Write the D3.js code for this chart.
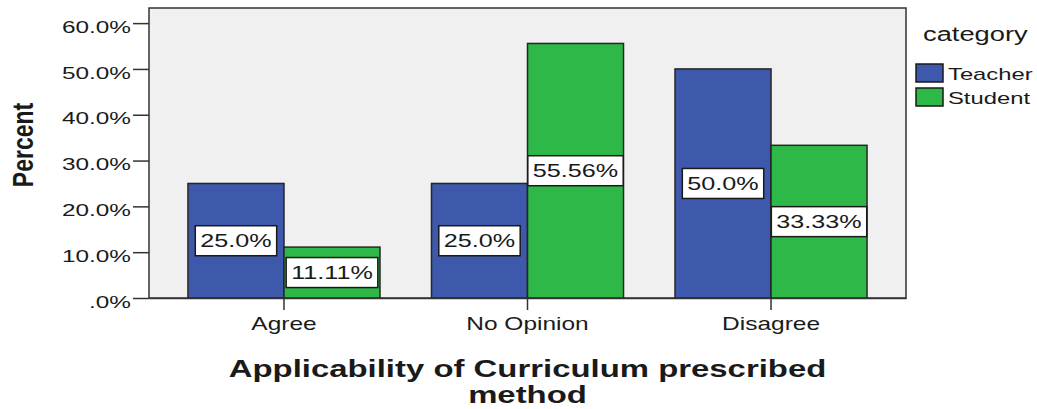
<!DOCTYPE html>
<html>
<head>
<meta charset="utf-8">
<script src="https://cdn.jsdelivr.net/npm/d3@7/dist/d3.min.js"></script>
<style>
  html, body { margin: 0; padding: 0; background: #ffffff; }
  svg { display: block; }
  text { font-family: "Liberation Sans", Arial, sans-serif; fill: #1a1a1a; }
</style>
</head>
<body>
<svg id="chart" width="1037" height="409"></svg>
<script>
// ---- data ----
const categories = ["Agree", "No Opinion", "Disagree"];
const seriesNames = ["Teacher", "Student"];
const teacherValues = [25.0, 25.0, 50.0];
const studentValues = [11.11, 55.56, 33.33];
const teacherLabels = ["25.0%", "25.0%", "50.0%"];
const studentLabels = ["11.11%", "55.56%", "33.33%"];
const yTickValues = [0, 10, 20, 30, 40, 50, 60];
const yTickLabels = [".0%", "10.0%", "20.0%", "30.0%", "40.0%", "50.0%", "60.0%"];
const xTitleLines = ["Applicability of Curriculum prescribed", "method"];
const yTitle = "Percent";
const legendTitle = "category";

// ---- styling ----
const colors = { Teacher: "#3e58ac", Student: "#2eb848" };
const SX = 1.4; // horizontal stretch of the original picture
const frame = { left: 149, right: 906, top: 8, bottom: 298 };

const svg = d3.select("#chart");

const y = d3.scaleLinear().domain([0, 63.3]).range([frame.bottom, frame.top]);
const x0 = d3.scaleBand().domain(categories).range([frame.left, frame.right])
  .paddingInner(0.2115).paddingOuter(0.16);
const x1 = d3.scaleBand().domain(seriesNames).range([0, x0.bandwidth()]).padding(0);

// helper for horizontally stretched text
function stext(parent, x, y0, str, size, opts = {}) {
  const g = parent.append("g")
    .attr("transform", `translate(${x},${y0}) scale(${opts.sx || SX},1)` + (opts.rotate ? ` rotate(${opts.rotate})` : ""));
  const t = g.append("text")
    .attr("x", 0).attr("y", opts.dy || 0)
    .attr("text-anchor", opts.anchor || "start")
    .attr("font-size", size)
    .attr("font-weight", opts.bold ? "bold" : "normal")
    .text(str);
  return t;
}

// plot frame
svg.append("rect")
  .attr("x", frame.left).attr("y", frame.top)
  .attr("width", frame.right - frame.left).attr("height", frame.bottom - frame.top)
  .attr("fill", "#f0f0f0").attr("stroke", "#333").attr("stroke-width", 1.5);

// bars
const rows = categories.map((c, i) => ({
  cat: c,
  vals: [
    { s: "Teacher", v: teacherValues[i], lab: teacherLabels[i] },
    { s: "Student", v: studentValues[i], lab: studentLabels[i] }
  ]
}));

const groups = svg.append("g").selectAll("g").data(rows).join("g")
  .attr("transform", d => `translate(${x0(d.cat)},0)`);

groups.selectAll("rect").data(d => d.vals).join("rect")
  .attr("x", d => x1(d.s))
  .attr("y", d => y(d.v))
  .attr("width", x1.bandwidth())
  .attr("height", d => y(0) - y(d.v))
  .attr("fill", d => colors[d.s])
  .attr("stroke", "#262626").attr("stroke-width", 1.5);

// value labels
groups.each(function(d) {
  const g = d3.select(this);
  d.vals.forEach(v => {
    const cx = x1(v.s) + x1.bandwidth() / 2;
    const cy = (y(v.v) + y(0)) / 2;
    const lg = g.append("g");
    const box = lg.append("rect");
    const t = stext(lg, cx, cy + 6.5, v.lab, 18, { anchor: "middle" });
    const w = t.node().getComputedTextLength() * SX + 10;
    const h = 30;
    box.attr("x", cx - w / 2).attr("y", cy - h / 2)
      .attr("width", w).attr("height", h)
      .attr("fill", "#ffffff").attr("stroke", "#1a1a1a").attr("stroke-width", 1.5);
  });
});

// y axis
const yAxis = svg.append("g").attr("transform", `translate(${frame.left},0)`)
  .call(d3.axisLeft(y).tickValues(yTickValues).tickSize(16).tickSizeOuter(0)
    .tickFormat((d, i) => yTickLabels[i]));
yAxis.select(".domain").remove();
yAxis.selectAll(".tick line").attr("stroke", "#333").attr("stroke-width", 1.5);
yAxis.selectAll(".tick text")
  .attr("font-family", "Liberation Sans, Arial, sans-serif")
  .attr("font-size", 17.4).attr("fill", "#1a1a1a")
  .attr("x", -18 / SX).attr("dy", null).attr("y", 9.2)
  .attr("transform", `scale(${SX},1)`);

// x axis
const xAxis = svg.append("g").attr("transform", `translate(0,${frame.bottom})`)
  .call(d3.axisBottom(x0).tickSize(12).tickSizeOuter(0));
xAxis.select(".domain").attr("stroke", "#333").attr("stroke-width", 1.5);
xAxis.selectAll(".tick line").attr("stroke", "#333").attr("stroke-width", 1.5);
xAxis.selectAll(".tick text")
  .attr("font-family", "Liberation Sans, Arial, sans-serif")
  .attr("font-size", 17.5).attr("fill", "#1a1a1a")
  .attr("dy", null).attr("y", 32)
  .attr("transform", `scale(${SX},1)`)
  .attr("x", 0);

// axis titles
const midX = (frame.left + frame.right) / 2;
stext(svg, midX, 377, xTitleLines[0], 23.5, { anchor: "middle", bold: true });
stext(svg, midX, 403, xTitleLines[1], 23.5, { anchor: "middle", bold: true });
stext(svg, 22.5, 145, yTitle, 23, { anchor: "middle", bold: true, rotate: -90, sx: 1.3, dy: 8.2 });

// legend
stext(svg, 923, 41, legendTitle, 19.5, {});
seriesNames.forEach((s, i) => {
  const yy = 64 + i * 24;
  svg.append("rect").attr("x", 916).attr("y", yy).attr("width", 27).attr("height", 18)
    .attr("fill", colors[s]).attr("stroke", "#1a1a1a").attr("stroke-width", 1.5);
  stext(svg, 948, yy + 15.5, s, 17, {});
});
</script>
</body>
</html>
